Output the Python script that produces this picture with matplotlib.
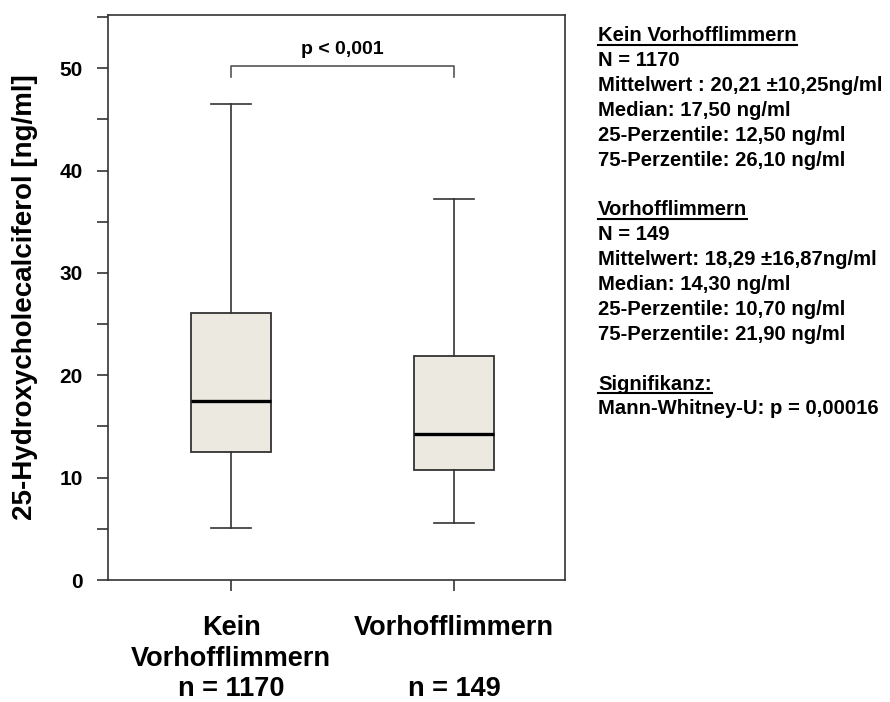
import matplotlib
matplotlib.use('Agg')
import matplotlib.pyplot as plt
from matplotlib.ticker import MultipleLocator
from matplotlib.lines import Line2D

# data
groups = ['Kein\nVorhofflimmern', 'Vorhofflimmern']
group_titles = ['Kein Vorhofflimmern', 'Vorhofflimmern']
n_values = [1170, 149]
whislo = [5.1, 5.6]
q1 = [12.5, 10.7]
med = [17.5, 14.3]
q3 = [26.1, 21.9]
whishi = [46.5, 37.2]
mean = [20.21, 18.29]
sd = [10.25, 16.87]
p_exact = 0.00016
p_label = 'p < 0,001'


def de(v, nd=2):
    return ('{:.%df}' % nd).format(v).replace('.', ',')


plt.rcParams['font.family'] = ['Liberation Sans', 'DejaVu Sans']
plt.rcParams['font.weight'] = 'bold'

fig = plt.figure(figsize=(8.9, 7.02), dpi=100)
ax = fig.add_axes([108 / 890, 1 - 580 / 702, 457 / 890, 565 / 702])

edge = '#333333'
stats = []
for i in range(len(groups)):
    stats.append({'whislo': whislo[i], 'q1': q1[i], 'med': med[i],
                  'q3': q3[i], 'whishi': whishi[i], 'fliers': []})

pos = [1, 2]
ax.bxp(stats, positions=pos, widths=0.36, patch_artist=True,
       showfliers=False,
       boxprops=dict(facecolor='#ECEAE0', edgecolor=edge, linewidth=1.3),
       medianprops=dict(color='black', linewidth=2.4),
       whiskerprops=dict(color=edge, linewidth=1.2),
       capprops=dict(color=edge, linewidth=1.2),
       capwidths=0.18)

# significance bracket
yb = 50.2
ax.plot([pos[0], pos[0], pos[1], pos[1]], [yb - 1.1, yb, yb, yb - 1.1],
        color='#555555', linewidth=1.2)
ax.text((pos[0] + pos[1]) / 2, 51.4, p_label, ha='center', va='baseline',
        fontsize=14, fontweight='bold')

ax.set_xlim(0.448, 2.498)
ax.set_ylim(0, 55.2)
ax.yaxis.set_major_locator(MultipleLocator(10))
ax.yaxis.set_minor_locator(MultipleLocator(5))
ax.set_xticks(pos)
ax.set_xticklabels(['{}\nn = {}'.format(groups[0], n_values[0]),
                    '{}\n \nn = {}'.format(groups[1], n_values[1])],
                   fontsize=19.5, fontweight='bold', linespacing=1.24)
for lab in ax.get_yticklabels():
    lab.set_fontsize(15)
    lab.set_fontweight('bold')
ax.tick_params(axis='y', which='both', direction='out', length=8,
               width=1.2, color=edge, pad=10)
ax.tick_params(axis='x', direction='out', length=8, width=1.2,
               color=edge, pad=17)
ax.set_ylabel('25-Hydroxycholecalciferol [ng/ml]', fontsize=20,
              fontweight='bold')
ax.yaxis.set_label_coords((38 - 108) / 457, 0.5)
for s in ax.spines.values():
    s.set_color(edge)
    s.set_linewidth(1.2)

# statistics block on the right
lines = [(group_titles[0], True),
         ('N = {}'.format(n_values[0]), False),
         ('Mittelwert : {} \u00b1{}ng/ml'.format(de(mean[0]), de(sd[0])), False),
         ('Median: {} ng/ml'.format(de(med[0])), False),
         ('25-Perzentile: {} ng/ml'.format(de(q1[0])), False),
         ('75-Perzentile: {} ng/ml'.format(de(q3[0])), False),
         ('', False),
         (group_titles[1], True),
         ('N = {}'.format(n_values[1]), False),
         ('Mittelwert: {} \u00b1{}ng/ml'.format(de(mean[1]), de(sd[1])), False),
         ('Median: {} ng/ml'.format(de(med[1])), False),
         ('25-Perzentile: {} ng/ml'.format(de(q1[1])), False),
         ('75-Perzentile: {} ng/ml'.format(de(q3[1])), False),
         ('', False),
         ('Signifikanz:', True),
         ('Mann-Whitney-U: p = {}'.format(de(p_exact, 5)), False)]

x0 = 598 / 890
texts = []
for k, (s, ul) in enumerate(lines):
    if not s:
        continue
    y = 1 - (41 + k * 24.9) / 702
    t = fig.text(x0, y, s, ha='left', va='baseline', fontsize=14.6,
                 fontweight='bold')
    texts.append((t, ul, y))

fig.canvas.draw()
r = fig.canvas.get_renderer()
for t, ul, y in texts:
    if ul:
        bb = t.get_window_extent(r)
        yl = y - 3.5 / 702
        fig.add_artist(Line2D([bb.x0 / 890, bb.x1 / 890], [yl, yl],
                              color='black', linewidth=1.5))

fig.savefig('out.png', dpi=100)
